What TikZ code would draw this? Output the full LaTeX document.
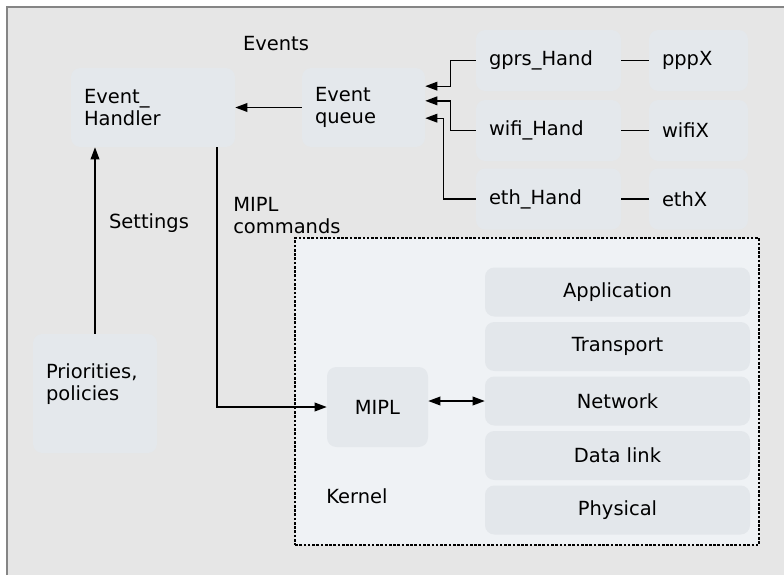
\documentclass[tikz,border=0pt]{standalone}
\usepackage{fontspec}
\setmainfont{DejaVu Sans}
\usepackage{xcolor}
\usetikzlibrary{positioning,arrows.meta,calc}
\definecolor{framebg}{HTML}{E6E6E6}
\definecolor{framegray}{HTML}{858585}
\definecolor{boxfill}{HTML}{E4E8EC}
\definecolor{kernfill}{HTML}{EFF2F5}
\definecolor{layerfill}{HTML}{E3E7EB}

\begin{document}
\begin{tikzpicture}[
    x=0.75pt, y=-0.75pt,
    >={Triangle[length=9pt, width=6.5pt]},
    every node/.style={font=\fontsize{14.6}{16.5}\selectfont},
    block/.style={
        rectangle, fill=boxfill, rounded corners=7pt,
        align=left, inner xsep=9.75pt
    },
    hand/.style={
        block, minimum height=45.75pt, text width=89.25pt
    },
    iface/.style={
        block, minimum height=45.75pt, text width=54.75pt
    },
    layer/.style={
        rectangle, fill=layerfill, rounded corners=7pt,
        minimum width=198.75pt, minimum height=36.75pt, align=center
    },
    kernelbox/.style={
        rectangle, draw=black, fill=kernfill, line width=0.8pt,
        dash pattern=on 2pt off 1.2pt
    },
    arr/.style={->, line width=1pt, black},
    lnk/.style={line width=1pt, black},
    lbl/.style={inner sep=0pt, align=left},
]

% ── Frame ──
\useasboundingbox (0,0) rectangle (784,575);
\fill[framebg] (7,7) rectangle (784,575);
\draw[framegray, line width=1.5pt] (7,575) -- (7,7) -- (784,7);

% ── Kernel ──
\node[kernelbox, minimum width=348pt, minimum height=230.25pt]
    (kernel) at (527,391.5) {};
\node[lbl] (kernlbl) at (357,496) {Kernel};

% ── Event handling ──
\node[block, minimum width=123pt, minimum height=59.25pt, text width=103.5pt]
    (handler) at (153,107.5) {Event\_\\Handler};
\node[block, minimum width=92.25pt, minimum height=59.25pt, text width=72.75pt]
    (queue) at (363.5,107.5) {Event\\queue};
\node[lbl] (evlbl) at (276,44) {Events};

% ── Handlers and interfaces ──
\node[hand] (gprs) at (548.5,60.5)  {gprs\_Hand};
\node[hand] (wifi) at (548.5,130.5) {wifi\_Hand};
\node[hand] (eth)  at (548.5,199)   {eth\_Hand};
\node[iface] (pppx)  at (698.5,60.5)  {pppX};
\node[iface] (wifix) at (698.5,130.5) {wifiX};
\node[iface] (ethx)  at (698.5,199)   {ethX};

\draw[lnk] (gprs.east) -- (pppx.west);
\draw[lnk] (wifi.east) -- (wifix.west);
\draw[lnk] (eth.east)  -- (ethx.west);

\draw[arr] (gprs.west) -- ++(-18.75pt,0) |- ([yshift=16pt]queue.east);
\draw[arr] (wifi.west) -- ++(-18.75pt,0) |- ([yshift=5pt]queue.east);
\draw[arr] (eth.west)  -- ++(-24pt,0)    |- ([yshift=-8pt]queue.east);
\draw[arr] (queue.west) -- (handler.east);

% ── Policies ──
\node[block, minimum width=93pt, minimum height=89.25pt, text width=73.5pt]
    (prio) at (95,393.5) {Priorities,\\policies\\\mbox{}};
\draw[arr] (prio.north) -- (prio.north |- handler.south);
\node[lbl] (setlbl) at (149,223) {Settings};

% ── MIPL ──
\node[block, minimum width=75.75pt, minimum height=60pt, text width=56.25pt,
      align=center] (mipl) at (377.5,407) {MIPL};
\draw[arr] ([xshift=48pt]handler.south) |- (mipl.west);
\node[lbl, anchor=west] (cmdlbl) at (233,216) {MIPL\\commands};

% ── Protocol stack ──
\foreach \name/\txt [count=\i from 0] in
    {app/Application, trans/Transport, net/Network, dlink/Data link, phys/Physical}
    \node[layer] (\name) at (617.5,{292+54.5*\i}) {\txt};

\draw[arr, <->] (mipl.east |- net.west) -- (net.west);

\end{tikzpicture}
\end{document}
